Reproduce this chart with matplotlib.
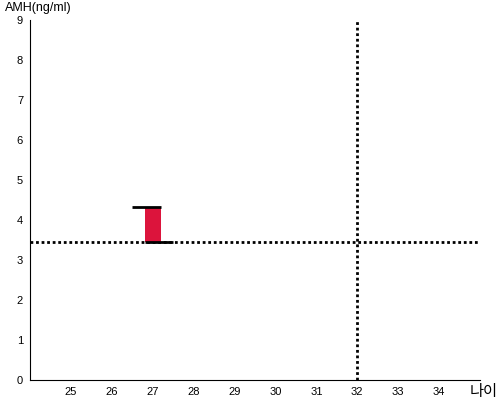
import matplotlib.pyplot as plt

plt.rcParams['font.family'] = ['Liberation Sans', 'Noto Sans CJK KR', 'DejaVu Sans']

ages = [27]
amh_low = [3.45]
amh_high = [4.33]
ref_amh = 3.45
ref_age = 32
x_ticks = [25, 26, 27, 28, 29, 30, 31, 32, 33, 34]
y_ticks = [0, 1, 2, 3, 4, 5, 6, 7, 8, 9]

fig = plt.figure(figsize=(5, 4), dpi=100)
ax = fig.add_axes([0.06, 0.05, 0.90, 0.90])

heights = [h - l for h, l in zip(amh_high, amh_low)]
ax.bar(ages, heights, bottom=amh_low, width=0.39, color='#dc143c', zorder=2)
for a, lo, hi in zip(ages, amh_low, amh_high):
    ax.hlines(hi, a - 0.5, a + 0.2, color='black', lw=2, zorder=3)
    ax.hlines(lo, a - 0.2, a + 0.5, color='black', lw=2, zorder=3)

ax.axhline(ref_amh, color='black', lw=2, ls=(0, (1, 1)), zorder=1)
ax.axvline(ref_age, color='black', lw=2, ls=(0, (1, 1)), zorder=1)

ax.set_xlim(24, 35)
ax.set_ylim(0, 9)
ax.set_xticks(x_ticks)
ax.set_yticks(y_ticks)
ax.tick_params(length=0, labelsize=8, pad=5)
ax.spines['top'].set_visible(False)
ax.spines['right'].set_visible(False)

fig.text(0.01, 0.995, 'AMH(ng/ml)', fontsize=9, va='top', ha='left')
fig.text(0.995, 0.003, '나이', fontsize=11, va='bottom', ha='right')

fig.savefig('out.png')
